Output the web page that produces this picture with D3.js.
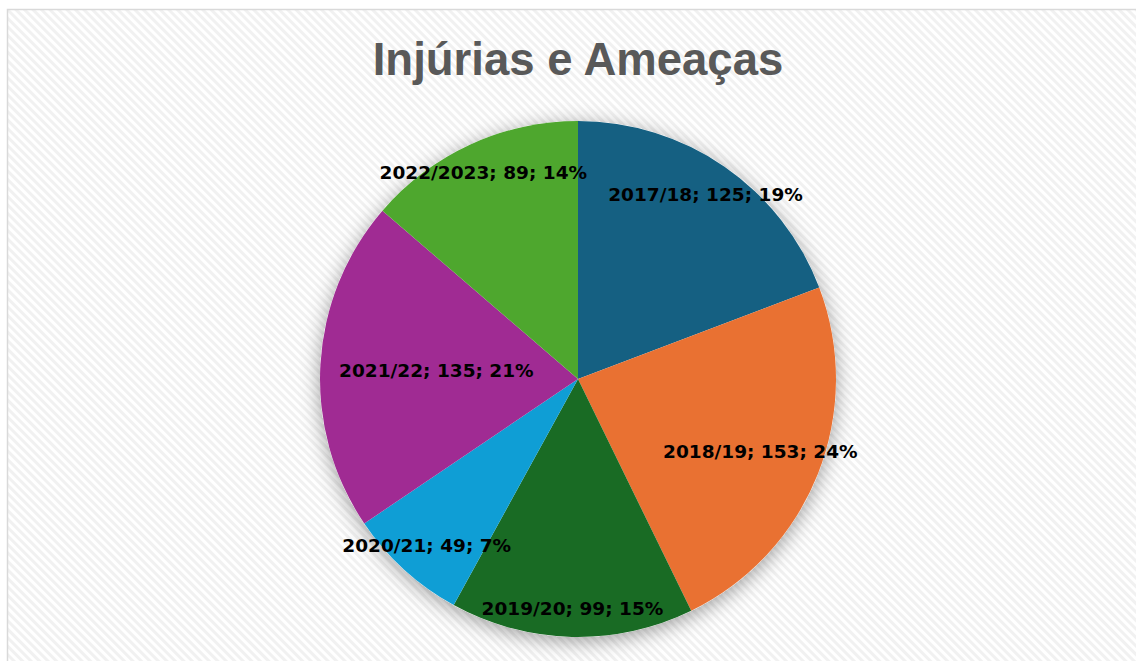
<!DOCTYPE html>
<html>
<head>
<meta charset="utf-8">
<script src="https://cdn.jsdelivr.net/npm/d3@7"></script>
<style>
  html, body { margin: 0; padding: 0; background: #fff; }
  svg { display: block; }
</style>
</head>
<body>
<div id="chart"></div>
<script>
// Chart data
const seasons = ["2017/18", "2018/19", "2019/20", "2020/21", "2021/22", "2022/2023"];
const counts = [125, 153, 99, 49, 135, 89];
const percents = [19, 24, 15, 7, 21, 14]; // as printed on the chart
const colors = ["#156082", "#e97132", "#196b24", "#0f9ed5", "#a02b93", "#4ea72e"];
// label distance from centre, as a fraction of the radius (Excel "best fit")
const labelRadius = [0.87, 0.76, 0.89, 0.87, 0.55, 0.88];

const width = 1136;
const height = 661;
const cx = 578, cy = 379, radius = 258;

const svg = d3
  .select("#chart")
  .append("svg")
  .attr("width", width)
  .attr("height", height);

const defs = svg.append("defs");

// diagonal stripe background
const pattern = defs
  .append("pattern")
  .attr("id", "stripes")
  .attr("width", 6)
  .attr("height", 6)
  .attr("patternUnits", "userSpaceOnUse")
  .attr("patternTransform", "rotate(45)");
pattern.append("rect").attr("width", 6).attr("height", 6).attr("fill", "#ffffff");
pattern.append("rect").attr("width", 6).attr("height", 3).attr("fill", "#f1f1f1");

// soft shadow under the pie
const shadow = defs.append("filter").attr("id", "shadow")
  .attr("x", "-25%").attr("y", "-25%").attr("width", "150%").attr("height", "150%");
shadow.append("feDropShadow")
  .attr("dx", 0).attr("dy", 4)
  .attr("stdDeviation", 10)
  .attr("flood-color", "#000")
  .attr("flood-opacity", 0.38);

// chart area
svg.append("rect")
  .attr("x", 7.5).attr("y", 9.5)
  .attr("width", width).attr("height", height)
  .attr("fill", "url(#stripes)")
  .attr("stroke", "#d9d9d9")
  .attr("stroke-width", 1.5);

// title
svg.append("text")
  .attr("x", cx)
  .attr("y", 75)
  .attr("text-anchor", "middle")
  .style("font-family", "'Liberation Sans', Arial, sans-serif")
  .style("font-size", "45.5px")
  .style("font-weight", "bold")
  .attr("fill", "#595959")
  .text("Injúrias e Ameaças");

const data = seasons.map((s, i) => ({
  season: s, value: counts[i], pct: percents[i], color: colors[i], lr: labelRadius[i]
}));

const pie = d3.pie().value((d) => d.value).sort(null);
const arcs = pie(data);
const arc = d3.arc().innerRadius(0).outerRadius(radius);

const g = svg.append("g").attr("transform", `translate(${cx},${cy})`);

g.append("circle").attr("r", radius).attr("fill", "#fff").attr("filter", "url(#shadow)");

g.selectAll("path.slice")
  .data(arcs)
  .enter()
  .append("path")
  .attr("class", "slice")
  .attr("d", arc)
  .attr("fill", (d) => d.data.color);

// data labels
g.selectAll("text.label")
  .data(arcs)
  .enter()
  .append("text")
  .attr("class", "label")
  .attr("transform", (d) => {
    const a = (d.startAngle + d.endAngle) / 2;
    const r = radius * d.data.lr;
    return `translate(${r * Math.sin(a)},${-r * Math.cos(a)})`;
  })
  .attr("text-anchor", "middle")
  .attr("dy", "0.36em")
  .style("font-family", "'DejaVu Sans', sans-serif")
  .style("font-size", "18.5px")
  .style("font-weight", "bold")
  .attr("fill", "#000")
  .text((d) => `${d.data.season}; ${d.data.value}; ${d.data.pct}%`);
</script>
</body>
</html>
